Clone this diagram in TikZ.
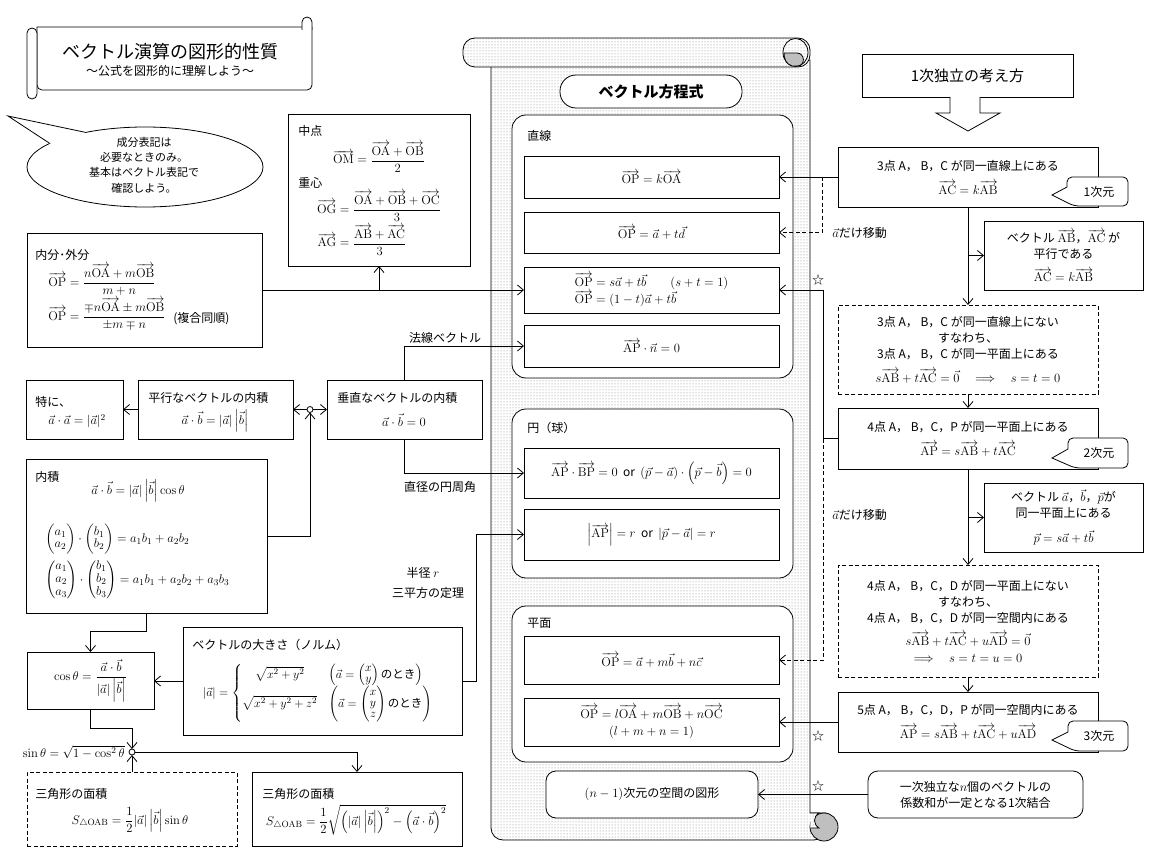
\documentclass[tikz,border=0pt]{standalone}
\usepackage{fix-cm}
\usepackage{amsmath,amssymb}
\usepackage[no-math]{fontspec}
\setmainfont{Noto Sans CJK JP}
\usetikzlibrary{arrows.meta,patterns,shapes.geometric}
\DeclareMathSizes{12}{12.6}{9}{7}
\DeclareMathSizes{11.5}{12}{8.6}{6.6}
\newcommand{\mv}[1]{\overrightarrow{\mathrm{#1}}}
\newcommand{\nrmb}{\left|\vec b\right|}
\begin{document}
\begin{tikzpicture}[x=1pt,y=-1pt,line width=0.8pt,
  every node/.style={font=\fontsize{12}{16}\selectfont},
  bx/.style={draw, fill=white, inner sep=2pt, outer sep=0pt, align=center},
  grp/.style={draw, fill=white, rounded corners=14pt, inner sep=0pt, outer sep=0pt},
  arr/.style={-{Straight Barb[length=6pt,width=10pt]}},
  dsh/.style={dash pattern=on 4pt off 2.5pt},
  junc/.style={circle, draw, fill=white, inner sep=0pt, minimum size=6pt, outer sep=0pt},
  lbl/.style={inner sep=0pt},
  dotsfill/.style={preaction={fill=white}, pattern=dots, pattern color=black!50}]
\useasboundingbox (0,0) rectangle (1152,864);

% ---------- title scroll ----------
\draw[fill=white] (37,27) -- (312,27) {[rounded corners=5pt] -- (312,90) -- (37,90)} -- cycle;
\draw[fill=white] (302,30) {[rounded corners=5pt] -- (302,17) -- (312,17) -- (312,30)};
\draw[fill=white, rounded corners=5pt] (27,28) rectangle (37,99);
\node[lbl, font=\fontsize{18}{22}\selectfont] (title) at (170,52) {ベクトル演算の図形的性質};
\node[lbl, font=\fontsize{12}{14}\selectfont] (subtitle) at (170,71) {〜公式を図形的に理解しよう〜};

% ---------- speech bubble ----------
\node[ellipse, draw, fill=white, minimum width=236, minimum height=80, inner sep=0pt] (bub) at (145,167) {};
\fill[white] (bub.150) -- (8,116) -- (bub.166) -- (90,155) -- cycle;
\draw (bub.150) -- (8,116) -- (bub.166);
\node[align=center, font=\fontsize{11}{15.3}\selectfont] (bubtxt) at (144,165) {成分表記は\\必要なときのみ。\\基本はベクトル表記で\\確認しよう。};

% ---------- centre scroll ----------
\draw[dotsfill] (491,60) {[rounded corners=12pt] -- (491,840) -- (826,840)} -- (826,813) -- (810,813) -- (810,60) -- cycle;
\draw[dotsfill, rounded corners=12pt] (463,38) rectangle (810,67);
\draw[dotsfill] (795.5,52.5) ellipse (12.5 and 14);
\draw[fill=gray!50] (784,53) -- (797,53) .. controls (805,53) and (806,66) .. (797,66) -- (792,66) .. controls (786,64) and (784,59) .. cycle;
\draw[fill=gray!50] (824,827) circle (14);
\draw[dotsfill] (810.4,813) -- (819,813) .. controls (813,817) and (813,824) .. (819,828) -- (810.4,828);

\node[draw, fill=white, rounded corners=16pt, minimum width=182, minimum height=33, font=\fontsize{15}{18}\selectfont\bfseries] (vtitle) at (651,91.5) {ベクトル方程式};

% groups
\node[grp, minimum width=281, minimum height=263] (g1) at (652.5,246.5) {};
\node[grp, minimum width=281, minimum height=169] (g2) at (652.5,493.5) {};
\node[grp, minimum width=281, minimum height=156] (g3) at (652.5,684) {};
\node[lbl, anchor=west] (g1l) at (527,136) {直線};
\node[lbl, anchor=west] (g2l) at (527,428) {円（球）};
\node[lbl, anchor=west] (g3l) at (527,623) {平面};

\node[bx, minimum width=255, minimum height=42] (b1) at (651.5,177) {$\mv{OP}=k\mv{OA}$};
\node[bx, minimum width=255, minimum height=41] (b2) at (651.5,232.5) {$\mv{OP}=\vec a+t\vec d$};
\node[bx, minimum width=255, minimum height=46, align=left, font=\fontsize{12}{15}\selectfont] (b3) at (651.5,290) {$\mv{OP}=s\vec a+t\vec b\qquad(s+t=1)$\\$\mv{OP}=(1-t)\vec a+t\vec b$};
\node[bx, minimum width=255, minimum height=42] (b4) at (651.5,346) {$\mv{AP}\cdot\vec n=0$};
\node[bx, minimum width=255, minimum height=50] (c1) at (651.5,473) {$\mv{AP}\cdot\mv{BP}=0$\ \ or\ \ $(\vec p-\vec a)\cdot\left(\vec p-\vec b\right)=0$};
\node[bx, minimum width=255, minimum height=51] (c2) at (651.5,534.5) {$\left|\mv{AP}\right|=r$\ \ or\ \ $|\vec p-\vec a|=r$};
\node[bx, minimum width=255, minimum height=48] (p1) at (651.5,660) {$\mv{OP}=\vec a+m\vec b+n\vec c$};
\node[bx, minimum width=255, minimum height=48] (p2) at (651.5,722) {$\mv{OP}=l\mv{OA}+m\mv{OB}+n\mv{OC}$\\[1pt]$(l+m+n=1)$};
\node[bx, rounded corners=10pt, minimum width=212, minimum height=47] (nb) at (652,794.5) {$(n-1)$次元の空間の図形};

% ---------- left side ----------
\node[bx, minimum width=182, minimum height=152] (mid) at (379,190) {};
\node[lbl, anchor=west] (midt1) at (298,131) {中点};
\node[lbl, anchor=base] (midf1) at (379,164) {$\mv{OM}=\dfrac{\mv{OA}+\mv{OB}}{2}$};
\node[lbl, anchor=west] (midt2) at (298,183) {重心};
\node[lbl, anchor=base] (midf2) at (379,213) {$\mv{OG}=\dfrac{\mv{OA}+\mv{OB}+\mv{OC}}{3}$};
\node[lbl, anchor=base] (midf3) at (362,247) {$\mv{AG}=\dfrac{\mv{AB}+\mv{AC}}{3}$};

\node[bx, minimum width=235, minimum height=114] (nai) at (144.5,290) {};
\node[lbl, anchor=west] (naiT) at (35,255) {内分･外分};
\node[lbl, anchor=base west] (naiF1) at (48,286) {$\mv{OP}=\dfrac{n\mv{OA}+m\mv{OB}}{m+n}$};
\node[lbl, anchor=base west] (naiF2) at (48,320) {$\mv{OP}=\dfrac{\mp n\mv{OA}\pm m\mv{OB}}{\pm m\mp n}$};
\node[lbl, anchor=base west] (naiT2) at (173,322) {(複合同順)};

\node[bx, minimum width=97, minimum height=59] (toku) at (74.5,409.5) {};
\node[lbl, anchor=west] (tokuT) at (35,402) {特に、};
\node[lbl] (tokuF) at (77,421) {$\vec a\cdot\vec a=|\vec a|^2$};

\node[bx, minimum width=155, minimum height=59] (hei) at (215.5,409.5) {};
\node[lbl, anchor=west] (heiT) at (148,398) {平行なベクトルの内積};
\node[lbl] (heiF) at (215,421) {$\vec a\cdot\vec b=|\vec a|\nrmb$};

\node[bx, minimum width=155, minimum height=59] (sui) at (404.5,409.5) {};
\node[lbl, anchor=west] (suiT) at (337,398) {垂直なベクトルの内積};
\node[lbl] (suiF) at (404,420) {$\vec a\cdot\vec b=0$};

\node[bx, minimum width=241, minimum height=154] (naiseki) at (146.5,536) {};
\node[lbl, anchor=west] (nsT) at (35,477) {内積};
\node[lbl] (nsF1) at (138,491) {$\vec a\cdot\vec b=|\vec a|\nrmb\cos\theta$};
\node[lbl, anchor=west] (nsF2) at (45,539) {\def\arraystretch{0.8}$\begin{pmatrix}a_1\\a_2\end{pmatrix}\cdot\begin{pmatrix}b_1\\b_2\end{pmatrix}=a_1b_1+a_2b_2$};
\node[lbl, anchor=west] (nsF3) at (45,580) {\def\arraystretch{0.8}$\begin{pmatrix}a_1\\a_2\\a_3\end{pmatrix}\cdot\begin{pmatrix}b_1\\b_2\\b_3\end{pmatrix}=a_1b_1+a_2b_2+a_3b_3$};

\node[bx, minimum width=127, minimum height=57] (cos) at (90.5,680.5) {$\cos\theta=\dfrac{\vec a\cdot\vec b}{|\vec a|\nrmb}$};

\node[bx, minimum width=279, minimum height=108] (norm) at (322.5,681) {};
\node[lbl, anchor=west] (normT) at (192,645) {ベクトルの大きさ（ノルム）};
\node[lbl, font=\fontsize{11.5}{14}\selectfont] (normF) at (318,693) {\def\arraystretch{0.8}$|\vec a|=\left\{\begin{array}{@{}c@{\quad}l@{}}\sqrt{x^2+y^2} & \left(\vec a=\begin{pmatrix}x\\y\end{pmatrix}\text{のとき}\right)\\[1pt] \sqrt{x^2+y^2+z^2} & \left(\vec a=\begin{pmatrix}x\\y\\z\end{pmatrix}\text{のとき}\right)\end{array}\right.$};

\node[junc] (j2) at (132,752) {};
\node[lbl, anchor=east] (sinl) at (125,752) {$\sin\theta=\sqrt{1-\cos^2\theta}$};

\node[bx, dsh, minimum width=210, minimum height=74] (tri1) at (132,809) {};
\node[lbl, anchor=west] (tri1T) at (35,794) {三角形の面積};
\node[lbl] (tri1F) at (130,820) {$S_{\triangle\mathrm{OAB}}=\dfrac12|\vec a|\nrmb\sin\theta$};
\node[bx, minimum width=210, minimum height=74] (tri2) at (357,809) {};
\node[lbl, anchor=west] (tri2T) at (262,794) {三角形の面積};
\node[lbl] (tri2F) at (356,820) {$S_{\triangle\mathrm{OAB}}=\dfrac12\sqrt{\left(|\vec a|\nrmb\right)^2-\left(\vec a\cdot\vec b\right)^2}$};

% ---------- right side ----------
\node[bx, minimum width=211, minimum height=43, font=\fontsize{15}{18}\selectfont] (ind) at (967.5,75.5) {1次独立の考え方};
\draw[fill=white] (950,97) -- (950,113) -- (936,113) -- (968,131) -- (1000,113) -- (980,113) -- (980,97);

\node[bx, minimum width=260, minimum height=60] (r1) at (968,177) {3点 A，\ B，C が同一直線上にある\\[8pt]$\mv{AC}=k\mv{AB}$};
\node[bx, minimum width=159, minimum height=69] (r1b) at (1063.5,255.5) {ベクトル $\mv{AB}$，$\mv{AC}$ が\\平行である\\[7pt]$\mv{AC}=k\mv{AB}$};
\node[bx, dsh, minimum width=260, minimum height=89] (r2) at (968,349.5) {3点 A，\ B，C が同一直線上にない\\すなわち、\\3点 A，\ B，C が同一平面上にある\\[8pt]$s\mv{AB}+t\mv{AC}=\vec 0\quad\Longrightarrow\quad s=t=0$};
\node[bx, minimum width=260, minimum height=61] (r3) at (968,438.5) {4点 A，\ B，C，P が同一平面上にある\\[8pt]$\mv{AP}=s\mv{AB}+t\mv{AC}$};
\node[bx, minimum width=159, minimum height=69] (r3b) at (1063.5,517.5) {ベクトル $\vec a$，$\vec b$，$\vec p$が\\同一平面上にある\\[9pt]$\vec p=s\vec a+t\vec b$};
\node[bx, dsh, minimum width=260, minimum height=112] (r4) at (968,621) {4点 A，\ B，C，D が同一平面上にない\\すなわち、\\4点 A，\ B，C，D が同一空間内にある\\[7pt]$s\mv{AB}+t\mv{AC}+u\mv{AD}=\vec 0$\\[1pt]$\Longrightarrow\quad s=t=u=0$};
\node[bx, minimum width=260, minimum height=60] (r5) at (968,722) {5点 A，\ B，C，D，P が同一空間内にある\\[8pt]$\mv{AP}=s\mv{AB}+t\mv{AC}+u\mv{AD}$};
\node[bx, rounded corners=10pt, minimum width=215, minimum height=47] (r6) at (975.5,794.5) {一次独立な$n$個のベクトルの\\係数和が一定となる1次結合};

% callouts
\draw[fill=white] (1067,187) {[rounded corners=5pt] -- (1067,177) -- (1128,177) -- (1128,206) -- (1074,206)} -- (1052,195) -- cycle;
\node[lbl] (cb1) at (1099,192) {1次元};
\draw[fill=white] (1068,449) {[rounded corners=5pt] -- (1068,438) -- (1128,438) -- (1128,468) -- (1075,468)} -- (1052,458) -- cycle;
\node[lbl] (cb2) at (1099,453) {2次元};
\draw[fill=white] (1068,732) {[rounded corners=5pt] -- (1068,721) -- (1128,721) -- (1128,751) -- (1075,751)} -- (1052,740) -- cycle;
\node[lbl] (cb3) at (1099,736) {3次元};

% ---------- connectors ----------
\draw[arr] (r1.west) -- (b1.east);
\coordinate (d1) at (822,177);
\draw[arr,dsh] (d1) |- (b2.east);
\draw[arr] (r1.south) -- (r2.north);
\draw[arr] (r1.south |- r1b.west) -- (r1b.west);
\draw[arr] (r2.south) -- (r3.north);
\coordinate (s1) at (823,438.5);
\draw[arr] (r3.west) -- (s1) |- (b3.east);
\draw[arr,dsh] (s1) |- (p1.east);
\draw[arr] (r3.south) -- (r4.north);
\draw[arr] (r3.south |- r3b.west) -- (r3b.west);
\draw[arr] (r4.south) -- (r5.north);
\draw[arr] (r5.west) -- (p2.east);
\draw[arr] (r6.west) -- (nb.east);

\draw[arr] (nai.east) -- (b3.west);
\draw[arr] (nai.east -| mid.south) -- (mid.south);
\draw[arr] (sui.north) |- (b4.west);
\draw[arr] (sui.south) |- (c1.west);
\coordinate (n1) at (476,681);
\draw[arr] (norm.east) -- (n1) |- (c2.west);
\node[junc] (j1) at (310,409.5) {};
\draw[arr] (j1) -- (hei.east);
\draw[arr] (j1) -- (sui.west);
\draw[arr] (naiseki.east) -| (j1.south);
\draw[arr] (hei.west) -- (toku.east);
\coordinate (k1) at (146.5,631);
\draw[arr] (naiseki.south) -- (k1) -| (cos.north);
\draw[arr] (norm.west) -- (norm.west -| cos.east);
\coordinate (k2) at (90.5,728);
\draw[arr] (cos.south) -- (k2) -| (j2.north);
\draw[arr] (tri1.north) -- (j2.south);
\draw[arr] (j2.east) -| (tri2.north);

% ---------- labels ----------
\node[lbl, anchor=west] (mv1) at (832,233) {$\vec a$だけ移動};
\node[lbl, anchor=west] (mv2) at (832,515) {$\vec a$だけ移動};
\node[lbl] (star1) at (818,280) {☆};
\node[lbl] (star2) at (818,736) {☆};
\node[lbl] (star3) at (818,786) {☆};
\node[lbl] (hosen) at (445,338) {法線ベクトル};
\node[lbl] (chokkei) at (440,487) {直径の円周角};
\node[lbl] (hankei) at (423,573) {半径 $r$};
\node[lbl] (sanhei) at (428,593) {三平方の定理};
\end{tikzpicture}
\end{document}
